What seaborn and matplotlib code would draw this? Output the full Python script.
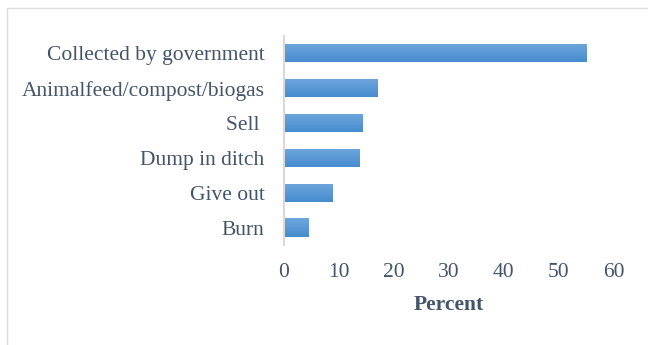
import matplotlib
matplotlib.use("Agg")
import matplotlib.pyplot as plt
import seaborn as sns
import numpy as np
import pandas as pd
from matplotlib.patches import Rectangle

categories = ["Collected by government", "Animalfeed/compost/biogas", "Sell ",
              "Dump in ditch", "Give out", "Burn"]
values = [55.0, 17.0, 14.2, 13.8, 8.9, 4.4]
xticks = [0, 10, 20, 30, 40, 50, 60]

df = pd.DataFrame({"Method": categories, "Percent": values})

sns.set_theme(style="white")
plt.rcParams["font.family"] = ["Liberation Serif", "DejaVu Serif"]
text_color = "#44546A"

fig = plt.figure(figsize=(6.48, 3.45), dpi=100)
ax = fig.add_axes([0.438, 0.29, 0.5095, 0.6057])

sns.barplot(data=df, x="Percent", y="Method", orient="h", color="#5B9BD5",
            width=0.52, ax=ax, saturation=1)

# gradient fill on each bar
grad = np.linspace(0, 1, 64).reshape(-1, 1)
cmap = matplotlib.colors.LinearSegmentedColormap.from_list("g", ["#6EA6DD", "#468CCE"])
for p in ax.patches:
    x0, y0 = p.get_x(), p.get_y()
    w, h = p.get_width(), p.get_height()
    im = ax.imshow(grad, extent=[x0, x0 + w, y0 + h, y0], origin="upper",
                   cmap=cmap, aspect="auto", zorder=p.get_zorder() + 0.1)
    im.set_clip_path(p)

ax.set_xlim(0, 60)
ax.set_ylim(5.5, -0.5)
ax.set_xticks(xticks)
ax.set_xticklabels([str(t) for t in xticks])
for s in ["top", "right", "bottom"]:
    ax.spines[s].set_visible(False)
ax.spines["left"].set_color("#D9D9D9")
ax.spines["left"].set_linewidth(1.5)
ax.tick_params(axis="x", length=0, pad=13, labelsize=15.5, labelcolor=text_color)
ax.tick_params(axis="y", length=0, pad=14, labelsize=15.5, labelcolor=text_color)
ax.set_ylabel("")
ax.set_xlabel("Percent", fontsize=15.5, fontweight="bold", color=text_color, labelpad=9)
ax.grid(False)

# outer chart frame
fig.patches.append(Rectangle((7 / 648, -0.1), 1.2, 1.1 - 8 / 345, transform=fig.transFigure,
                             fill=False, edgecolor="#DDDDDD", linewidth=1.0))

fig.savefig("out.png", dpi=100)
